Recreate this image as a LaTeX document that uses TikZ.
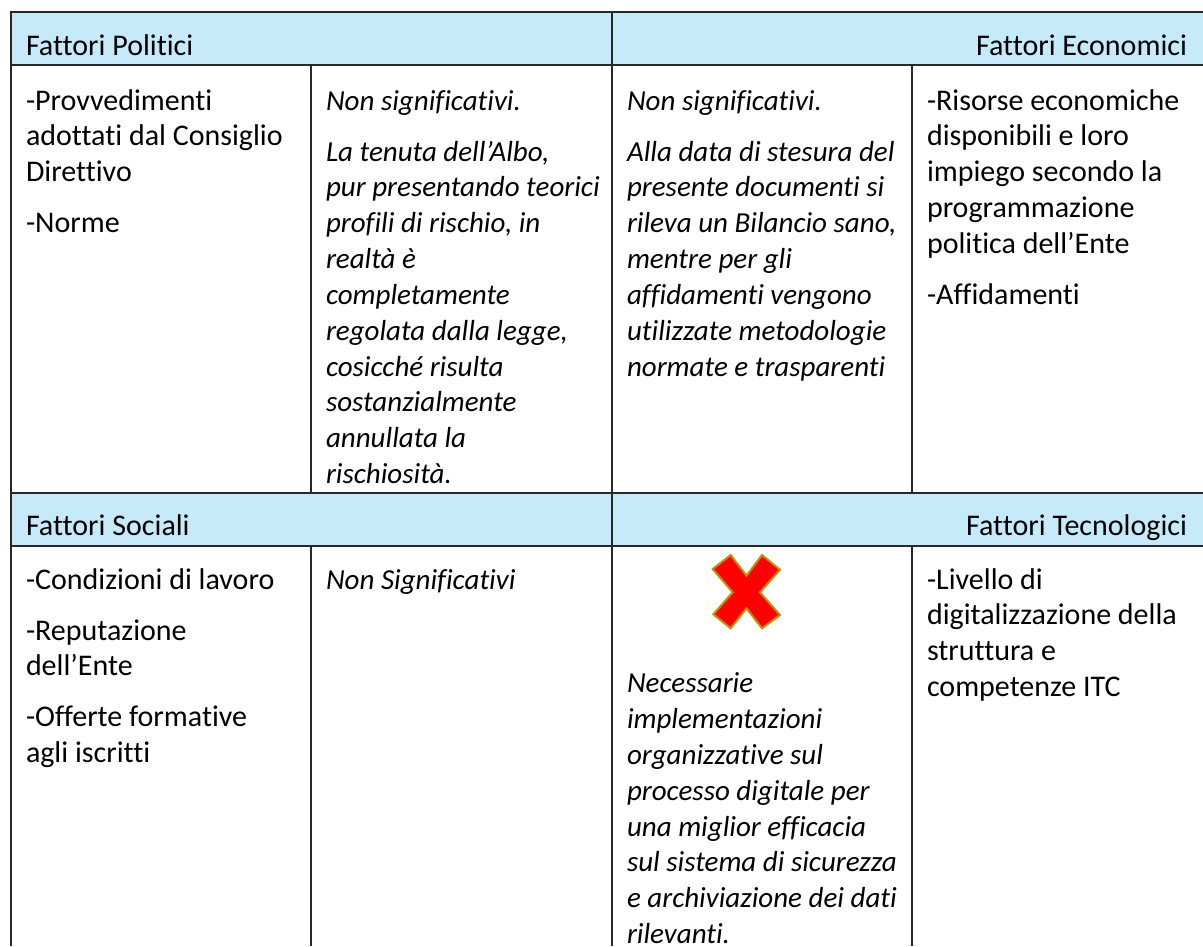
\documentclass[tikz,border=0pt]{standalone}
\usepackage{fontspec}
\setmainfont{Carlito}[Ligatures={NoCommon}]
\definecolor{hdrblue}{RGB}{199,234,250}
\definecolor{gridc}{RGB}{40,40,40}
\definecolor{xred}{RGB}{255,0,0}
\definecolor{xgold}{RGB}{191,144,0}
\newcommand{\cellfont}{\fontsize{30}{35.85}\selectfont}
\newcommand{\icellfont}{\fontsize{29}{35.85}\selectfont\itshape}
\begin{document}
\begin{tikzpicture}[x=1pt,y=-1pt,
  gridline/.style={draw=gridc, line width=2pt},
  cell/.style={anchor=north west, inner sep=0pt, outer sep=0pt, align=left, font=\cellfont},
  icell/.style={cell, font=\icellfont},
  htext/.style={inner sep=0pt, outer sep=0pt, font=\cellfont},
  crossmark/.style={fill=xred, draw=xgold, line width=2pt, line join=miter},
]
\useasboundingbox (0,0) rectangle (1203,946);
% header fills
\fill[hdrblue] (11,12) rectangle (1203,65);
\fill[hdrblue] (11,493) rectangle (1203,546);
% grid
\draw[gridline] (11,12) -- (1203,12);
\draw[gridline] (11,65) -- (1203,65);
\draw[gridline] (11,493) -- (1203,493);
\draw[gridline] (11,546) -- (1203,546);
\draw[gridline] (11,11) -- (11,946);
\draw[gridline] (612,12) -- (612,946);
\draw[gridline] (311,65) -- (311,493);
\draw[gridline] (912,65) -- (912,493);
\draw[gridline] (311,546) -- (311,946);
\draw[gridline] (912,546) -- (912,946);
% headers
\node[htext, anchor=base west] (hpol) at (26,55) {Fattori Politici};
\node[htext, anchor=base east] (heco) at (1187,55) {Fattori Economici};
\node[htext, anchor=base west] (hsoc) at (26,535) {Fattori Sociali};
\node[htext, anchor=base east] (htec) at (1187,535) {Fattori Tecnologici};
% row 1
\node[cell] (pol1) at (26,84.9) {\strut -Provvedimenti\\adottati dal Consiglio\\Direttivo\\[15.15pt]-Norme};
\node[icell] (pol2) at (326,84.9) {\strut Non significativi.\\[15.15pt]La tenuta dell’Albo,\\pur presentando teorici\\profili di rischio, in\\realtà è\\completamente\\regolata dalla legge,\\cosicché risulta\\sostanzialmente\\annullata la\\rischiosità.};
\node[icell] (eco2) at (627,84.9) {\strut Non significativi.\\[15.15pt]Alla data di stesura del\\presente documenti si\\rileva un Bilancio sano,\\mentre per gli\\affidamenti vengono\\utilizzate metodologie\\normate e trasparenti};
\node[cell] (eco1) at (927,84.9) {\strut -Risorse economiche\\disponibili e loro\\impiego secondo la\\programmazione\\politica dell’Ente\\[15.15pt]-Affidamenti};
% row 2
\node[cell] (soc1) at (26,563.9) {\strut -Condizioni di lavoro\\[15.15pt]-Reputazione\\dell’Ente\\[15.15pt]-Offerte formative\\agli iscritti};
\node[icell] (soc2) at (326,563.9) {\strut Non Significativi};
\filldraw[crossmark] (730.7,555) -- (746.5,575.7) -- (762,555) -- (780,569.7) -- (760,592.3) -- (780,615) -- (762,628.3) -- (746.5,608.3) -- (730.7,628.3) -- (713.3,614.3) -- (732.7,592.3) -- (712.7,569) -- cycle;
\node[icell] (tec2) at (627,667.6) {\strut Necessarie\\implementazioni\\organizzative sul\\processo digitale per\\una miglior efficacia\\sul sistema di sicurezza\\e archiviazione dei dati\\rilevanti.};
\node[cell] (tec1) at (927,563.9) {\strut -Livello di\\digitalizzazione della\\struttura e\\competenze ITC};
\end{tikzpicture}
\end{document}
